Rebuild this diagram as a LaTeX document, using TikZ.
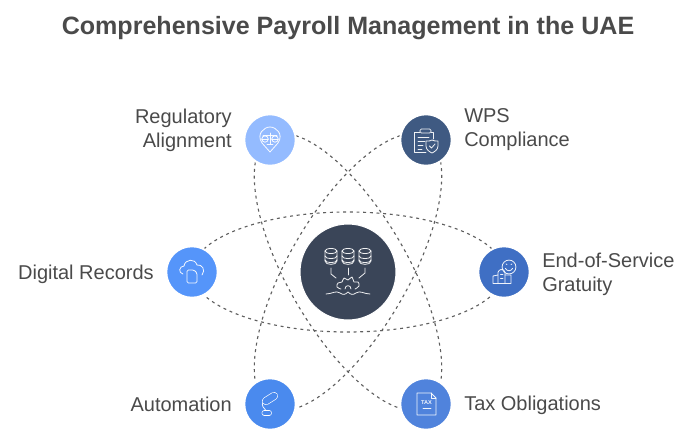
\documentclass[tikz,border=0pt]{standalone}
\usepackage{fontspec}
\setmainfont{Liberation Sans}
\definecolor{ink}{HTML}{4A4A4A}
\definecolor{orbitc}{HTML}{5F5F5F}
\definecolor{cReg}{HTML}{94BBFF}
\definecolor{cWps}{HTML}{3F5A82}
\definecolor{cDig}{HTML}{5595FA}
\definecolor{cEnd}{HTML}{3F6FC4}
\definecolor{cAut}{HTML}{4A8AEE}
\definecolor{cTax}{HTML}{5083DC}
\definecolor{cMid}{HTML}{3A4558}
\tikzset{
  x=0.75pt,y=-0.75pt,
  orbit/.style={draw=orbitc,line width=0.85pt,dash pattern=on 2.2pt off 2.8pt},
  badge/.style={circle,minimum size=38.6pt,inner sep=0pt,draw=white,line width=1.5pt},
  hub/.style={circle,minimum size=72pt,inner sep=0pt,fill=cMid,draw=white,line width=0.8pt},
  lab/.style={text=ink,font=\fontsize{15pt}{18pt}\selectfont,inner sep=0pt},
  labr/.style={lab,anchor=east,align=right},
  labl/.style={lab,anchor=west,align=left},
  glyph/.style={draw=white,line width=0.6pt,line cap=round,line join=round,opacity=0.92}
}
\begin{document}
\begin{tikzpicture}
\useasboundingbox (0,0) rectangle (696,439);
\node[anchor=center,text=ink,font=\fontsize{18.8pt}{22pt}\selectfont\bfseries,inner sep=0pt] (title) at (348,28) {Comprehensive Payroll Management in the UAE};
\coordinate (o) at (348,272);
\draw[orbit] (o) ellipse (117pt and 45pt);
\draw[orbit,rotate around={60:(o)}] (o) ellipse (117pt and 45pt);
\draw[orbit,rotate around={-60:(o)}] (o) ellipse (117pt and 45pt);
\node[hub] (mid) at (o) {};
\node[badge,fill=cReg] (reg) at (270,140) {};
\node[badge,fill=cWps] (wps) at (426,140) {};
\node[badge,fill=cDig] (dig) at (192,272) {};
\node[badge,fill=cEnd] (end) at (504,272) {};
\node[badge,fill=cAut] (aut) at (270,404) {};
\node[badge,fill=cTax] (tax) at (426,404) {};
\node[labr] (tReg) at (232,130) {Regulatory\\Alignment};
\node[labl] (tWps) at (464,130) {WPS\\Compliance};
\node[labr] (tDig) at (154,274) {Digital Records};
\node[labl] (tEnd) at (542,274) {End-of-Service\\Gratuity};
\node[labr] (tAut) at (232,404) {Automation};
\node[labl] (tTax) at (464,405.5) {Tax Obligations};
% hub icon
\begin{scope}[shift={(mid.center)},glyph]
  \foreach \c in {-17,0,17}{
    \draw (\c-6,-21) -- (\c-6,-11) .. controls (\c-6,-6.5) and (\c+6,-6.5) .. (\c+6,-11) -- (\c+6,-21);
    \draw (\c,-21) ellipse (4.5pt and 1.9pt);
    \draw (\c-6,-16) .. controls (\c-6,-12.5) and (\c+6,-12.5) .. (\c+6,-16);
    \draw (\c-6,-12) .. controls (\c-6,-8.5) and (\c+6,-8.5) .. (\c+6,-12);
  }
  \draw (-17,-4) -- (-17,2) -- (-12,6);
  \draw (0,-4) -- (0,3);
  \draw (17,-4) -- (17,1) -- (11,6);
  \draw plot[smooth,tension=0.7] coordinates {(-7,17) (-11,15) (-10,11) (-6,10) (-4,6) (0,8) (4,5) (6,10) (10,10) (11,14) (7,17)};
  \draw (-3,17) .. controls (-3,12.5) and (3,12.5) .. (3,17);
  \draw (-22,22) .. controls (-16,22) and (-12,18) .. (-8,21) .. controls (-5,23) and (-3,23) .. (0,20) .. controls (3,23) and (5,23) .. (8,21) .. controls (12,18) and (16,22) .. (22,22);
\end{scope}
% regulatory icon
\begin{scope}[shift={(reg.center)},glyph]
  \draw (-8,3) .. controls (-14,-6) and (-6,-13) .. (0,-13) .. controls (6,-13) and (14,-6) .. (8,3) -- (0,12) -- cycle;
  \draw (-7,-5) -- (7,-5);
  \draw (0,-7) -- (0,4) (-3,4) -- (3,4);
  \draw (-5,-1) circle (2.4pt and 2.4pt);
  \draw (5,-1) circle (2.4pt and 2.4pt);
  \draw (-8.2,-1) -- (-1.8,-1) (1.8,-1) -- (8.2,-1);
\end{scope}
% WPS icon
\begin{scope}[shift={(wps.center)},glyph]
  \draw (-6,-8) -- (-12,-8) -- (-12,12) -- (0,12);
  \draw (5,-8) -- (7,-8) -- (7,-1);
  \draw[rounded corners=1pt] (-6,-11) rectangle (5,-7);
  \draw (-8,-3) -- (3,-3) (-8,1) -- (-1,1) (-8,5) -- (-3,5) (-8,9) -- (-4,9);
  \draw (0,1) .. controls (3,1) and (5,1) .. (6,0) .. controls (7,1) and (10,1) .. (12,1) -- (12,6) .. controls (12,10) and (8,12) .. (6,13) .. controls (4,12) and (0,10) .. (0,6) -- cycle;
  \draw (3.5,6) -- (5.5,8) -- (9,4);
\end{scope}
% digital records icon
\begin{scope}[shift={(dig.center)},glyph]
  \draw (-9,2) .. controls (-14,1) and (-13,-6) .. (-8,-6) .. controls (-7,-13) and (3,-14) .. (5,-7) .. controls (10,-8) and (14,-2) .. (10,3);
  \draw[rounded corners=1pt] (-5,-2) -- (2,-2) -- (5,1) -- (5,11) -- (-5,11) -- cycle;
\end{scope}
% end of service icon
\begin{scope}[shift={(end.center)},glyph]
  \draw (5,-5) circle (5.2pt and 5.2pt);
  \draw (1.5,-3.5) .. controls (3,-0.5) and (7,-0.5) .. (8.5,-3.5);
  \draw (2,-8) -- (3,-7.5) (7,-7.5) -- (8,-8);
  \draw[rounded corners=1pt] (-6,11) -- (-6,-1) -- (-2,-3) -- (1,-1) -- (1,11);
  \draw (-11,11) -- (-11,4) -- (-6,3) (1,3) -- (7,3) -- (7,11);
  \draw (-11,11) -- (7,11);
  \draw (-3.5,2) -- (-1,2) (-3.5,6) -- (-1,6);
\end{scope}
% automation icon
\begin{scope}[shift={(aut.center)}]
  \draw[glyph] (-7,-2) .. controls (-9,2) and (-6,4) .. (-4,6.5);
  \draw[white,line width=6pt,line cap=round] (-4,-3) -- (4,-8);
  \draw[cAut,line width=5pt,line cap=round] (-4,-3) -- (4,-8);
  \draw[white,line width=4.4pt,line cap=round] (-5.5,9) -- (-1,9);
  \draw[cAut,line width=3.4pt,line cap=round] (-5.5,9) -- (-1,9);
\end{scope}
% tax icon
\begin{scope}[shift={(tax.center)},glyph]
  \draw (-9,-11) -- (5,-11) -- (10,-6) -- (10,11) -- (-9,11) -- cycle;
  \draw (5,-11) -- (5,-6) -- (10,-6);
  \draw (-3,4) -- (5,4);
  \node[draw=none,text=white,inner sep=0pt,font=\bfseries\fontsize{4.2pt}{5pt}\selectfont] (taxword) at (0.5,-1) {TAX};
\end{scope}
\end{tikzpicture}
\end{document}
